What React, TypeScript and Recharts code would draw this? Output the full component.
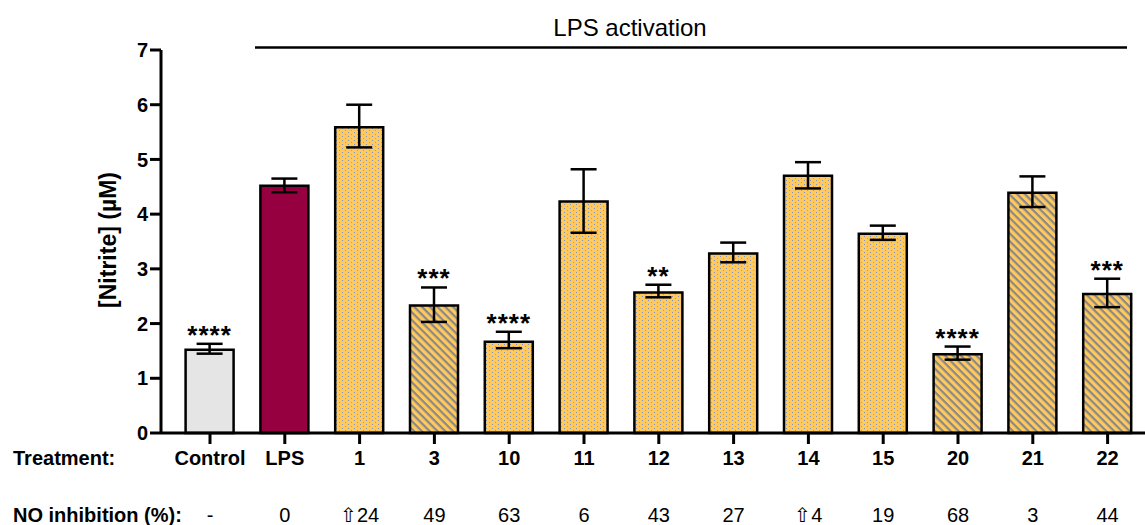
import React from 'react';
import { BarChart, Bar, XAxis, YAxis, ErrorBar, Cell, LabelList } from 'recharts';

const categories = ['Control', 'LPS', '1', '3', '10', '11', '12', '13', '14', '15', '20', '21', '22'];
const nitrite = [1.52, 4.52, 5.59, 2.33, 1.67, 4.23, 2.57, 3.28, 4.70, 3.64, 1.44, 4.39, 2.54];
const errHigh = [1.63, 4.65, 6.00, 2.66, 1.85, 4.82, 2.71, 3.48, 4.95, 3.79, 1.58, 4.69, 2.82];
const errLow = [1.45, 4.40, 5.22, 2.03, 1.55, 3.66, 2.48, 3.12, 4.47, 3.53, 1.34, 4.13, 2.30];
const significance = ['****', '', '', '***', '****', '', '**', '', '', '', '****', '', '***'];
const inhibition = ['-', '0', '\u21E724', '49', '63', '6', '43', '27', '\u21E74', '19', '68', '3', '44'];
const yTicks = [0, 1, 2, 3, 4, 5, 6, 7];

const hatchedCompounds = ['3', '20', '21', '22'];

const data = categories.map((c, i) => ({
  name: c,
  value: nitrite[i],
  err: [nitrite[i] - errLow[i], errHigh[i] - nitrite[i]],
  stars: significance[i],
  inhibition: inhibition[i],
}));

const FONT = '"Liberation Sans", Arial, Helvetica, sans-serif';
const YELLOW = '#FFC95E';

function fillFor(name: string): string {
  if (name === 'Control') return '#E5E5E5';
  if (name === 'LPS') return '#970040';
  if (hatchedCompounds.includes(name)) return 'url(#hatchPat)';
  return 'url(#dotPat)';
}

const XTick = (props: any) => {
  const { x, payload, index } = props;
  return (
    <g>
      <text x={x} y={465} textAnchor="middle" fontFamily={FONT} fontWeight="bold" fontSize={20} fill="#000">
        {payload.value}
      </text>
      <text x={x} y={522} textAnchor="middle" fontFamily={FONT} fontSize={20} fill="#000">
        {inhibition[index]}
      </text>
    </g>
  );
};

const StarLabel = (props: any) => {
  const { x, y, width, height, value, index } = props;
  if (!value) return null;
  const v = nitrite[index];
  const pxPerUnit = height / v;
  const topY = y - (errHigh[index] - v) * pxPerUnit;
  return (
    <text
      x={x + width / 2}
      y={topY}
      textAnchor="middle"
      fontFamily={FONT}
      fontWeight="bold"
      fontSize={26}
      letterSpacing={1}
      fill="#000"
    >
      {value}
    </text>
  );
};

export default function App() {
  return (
    <div style={{ position: 'absolute', left: 0, top: 0, width: 1145, height: 525, background: '#fff' }}>
      <svg width={0} height={0} style={{ position: 'absolute' }}>
        <defs>
          <pattern id="dotPat" patternUnits="userSpaceOnUse" width={6} height={4}>
            <rect x={0} y={0} width={6} height={4} fill={YELLOW} />
            <rect x={0} y={0} width={1} height={1} fill="#8395B8" />
            <rect x={3} y={2} width={1} height={1} fill="#9AA3B5" />
          </pattern>
          <pattern id="hatchPat" patternUnits="userSpaceOnUse" width={10} height={5.5} patternTransform="rotate(45)">
            <rect x={0} y={0} width={10} height={5.5} fill={YELLOW} />
            <rect x={0} y={0} width={10} height={2.2} fill="#888888" />
          </pattern>
        </defs>
      </svg>
      <BarChart
        width={1145}
        height={525}
        data={data}
        margin={{ top: 50, right: 0, bottom: 0, left: 0 }}
        barSize={48}
      >
        <YAxis
          width={161}
          domain={[0, 7]}
          ticks={yTicks}
          interval={0}
          tickSize={11}
          tickMargin={2}
          axisLine={{ stroke: '#000', strokeWidth: 3 }}
          tickLine={{ stroke: '#000', strokeWidth: 3 }}
          tick={{ fontFamily: FONT, fontWeight: 'bold', fontSize: 20, fill: '#000' }}
        />
        <XAxis
          dataKey="name"
          height={92}
          interval={0}
          padding={{ left: 11.6, right: 0 }}
          tickSize={11}
          axisLine={{ stroke: '#000', strokeWidth: 3 }}
          tickLine={{ stroke: '#000', strokeWidth: 3 }}
          tick={<XTick />}
        />
        <Bar dataKey="value" stroke="#000" strokeWidth={2.5} isAnimationActive={false}>
          {data.map((d, i) => (
            <Cell key={i} fill={fillFor(d.name)} />
          ))}
          <ErrorBar dataKey="err" width={13} stroke="#000" strokeWidth={2.5} direction="y" />
          <LabelList dataKey="stars" content={<StarLabel />} />
        </Bar>
      </BarChart>
      <svg width={1145} height={525} style={{ position: 'absolute', left: 0, top: 0, pointerEvents: 'none' }}>
        <text x={630} y={36} textAnchor="middle" fontFamily={FONT} fontSize={24} fill="#000">LPS activation</text>
        <line x1={255} x2={1127} y1={47.5} y2={47.5} stroke="#000" strokeWidth={2.5} />
        <text x={13} y={465} fontFamily={FONT} fontWeight="bold" fontSize={20} fill="#000">Treatment:</text>
        <text x={13} y={522} fontFamily={FONT} fontWeight="bold" fontSize={20} fill="#000">NO inhibition (%):</text>
        <text
          transform="translate(116,240) rotate(-90)"
          textAnchor="middle"
          fontFamily={FONT}
          fontWeight="bold"
          fontSize={23}
          fill="#000"
        >
          [Nitrite] (µM)
        </text>
      </svg>
    </div>
  );
}
